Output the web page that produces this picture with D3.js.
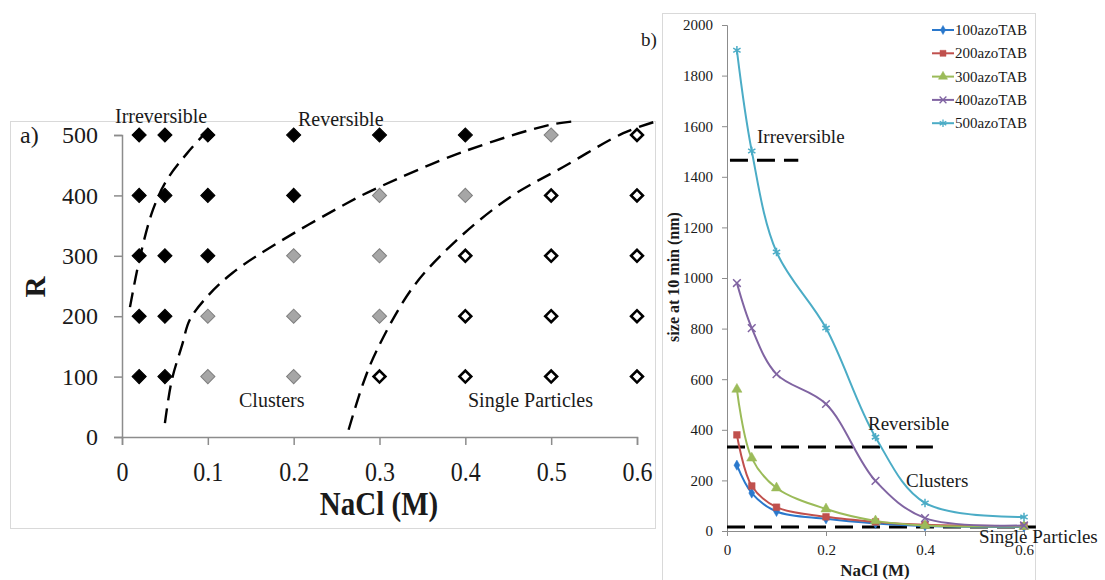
<!DOCTYPE html>
<html>
<head>
<meta charset="utf-8">
<script src="https://cdn.jsdelivr.net/npm/d3@7"></script>
<style>
  body { margin: 0; background: #fff; }
  svg { display: block; font-family: "Liberation Serif", "Times New Roman", serif; }
</style>
</head>
<body>
<svg id="chart" width="1105" height="580"></svg>
<script>
// ---- panel a) phase diagram ----
var saltLevels = [0.02, 0.05, 0.1, 0.2, 0.3, 0.4, 0.5, 0.6];
var ratioLevels = [500, 400, 300, 200, 100];
// I = irreversible, R = reversible (clusters), S = single particles
var phaseGrid = [
    ['I', 'I', 'I', 'I', 'I', 'I', 'R', 'S'],
    ['I', 'I', 'I', 'I', 'R', 'R', 'S', 'S'],
    ['I', 'I', 'I', 'R', 'R', 'S', 'S', 'S'],
    ['I', 'I', 'R', 'R', 'R', 'S', 'S', 'S'],
    ['I', 'I', 'R', 'R', 'S', 'S', 'S', 'S']
];
var axisATicksX = [0, 0.1, 0.2, 0.3, 0.4, 0.5, 0.6];
var axisATicksY = [0, 100, 200, 300, 400, 500];

// hand drawn phase boundaries (NaCl, R)
var irrevBoundaryNaCl = [0.0093, 0.021, 0.036, 0.052, 0.076, 0.106];
var irrevBoundaryR    = [215, 298, 376, 425, 470, 517];
var clusterBoundaryNaCl = [0.050, 0.058, 0.070, 0.079, 0.099, 0.129, 0.181, 0.262, 0.297, 0.397, 0.499, 0.530];
var clusterBoundaryR    = [23, 94, 152, 194, 232, 272, 321, 387, 412, 472, 517, 523];
var singleBoundaryNaCl = [0.264, 0.281, 0.297, 0.339, 0.390, 0.452, 0.514, 0.584, 0.621];
var singleBoundaryR    = [12, 89, 144, 248, 326, 397, 447, 503, 522];

// ---- panel b) size at 10 min ----
var seriesNames = ['100azoTAB', '200azoTAB', '300azoTAB', '400azoTAB', '500azoTAB'];
var sizeNaCl = [0.02, 0.05, 0.1, 0.2, 0.3, 0.4, 0.6];
var size100 = [260, 150, 77, 48, 30, 20, 16];
var size200 = [380, 178, 94, 56, 36, 25, 20];
var size300 = [560, 288, 170, 87, 40, 22, 18];
var size400 = [980, 802, 620, 502, 198, 51, 22];
var size500 = [1900, 1502, 1103, 802, 371, 111, 55];
var axisBTicksX = [0, 0.2, 0.4, 0.6];
var axisBTicksY = [0, 200, 400, 600, 800, 1000, 1200, 1400, 1600, 1800, 2000];
var thresholdLabels = ['Irreversible', 'Reversible', 'Single Particles'];
var thresholdValues = [1465, 332, 16];
var thresholdFrom = [0.006, 0, 0];
var thresholdTo = [0.144, 0.416, 0.624];

var svg = d3.select('#chart');
var axisGray = '#8c8c8c';
var boxGray = '#d9d9d9';
var textColor = '#1a1a1a';

svg.append('rect').attr('width', 1105).attr('height', 580).attr('fill', '#fff');

// panel frames
svg.append('rect')
    .attr('x', 10.5).attr('y', 121.5).attr('width', 645).attr('height', 407)
    .attr('fill', 'none').attr('stroke', boxGray);
svg.append('rect')
    .attr('x', 662.5).attr('y', 13.5).attr('width', 373).attr('height', 590)
    .attr('fill', 'none').attr('stroke', boxGray);

// ================= panel a =================
var ax = d3.scaleLinear().domain([0, 0.6]).range([122, 637]);
var ay = d3.scaleLinear().domain([0, 500]).range([437, 135]);

var gA = svg.append('g');

var xAxisA = gA.append('g')
    .attr('transform', 'translate(0,' + ay(0) + ')')
    .call(d3.axisBottom(ax).tickValues(axisATicksX).tickSize(8).tickPadding(13)
        .tickFormat(function(d){ return d === 0 ? '0' : d3.format('.1f')(d); }));
var yAxisA = gA.append('g')
    .attr('transform', 'translate(' + ax(0) + ',0)')
    .call(d3.axisLeft(ay).tickValues(axisATicksY).tickSize(8).tickPadding(16));

[xAxisA, yAxisA].forEach(function(g){
    g.select('.domain').attr('stroke', axisGray).attr('stroke-width', 1.5);
    g.selectAll('.tick line').attr('stroke', axisGray).attr('stroke-width', 1.5);
    g.selectAll('.tick text')
        .attr('fill', textColor)
        .style('font-family', '"Liberation Serif", serif')
        .style('font-size', '24px');
});
// stretch x tick labels slightly taller like the original
xAxisA.selectAll('.tick text').attr('transform', 'scale(1,1.15)');

// boundaries
var boundaryLine = d3.line()
    .x(function(d){ return ax(d[0]); })
    .y(function(d){ return ay(d[1]); })
    .curve(d3.curveCatmullRom.alpha(0.5));

[[irrevBoundaryNaCl, irrevBoundaryR],
 [clusterBoundaryNaCl, clusterBoundaryR],
 [singleBoundaryNaCl, singleBoundaryR]].forEach(function(b){
    var pts = b[0].map(function(x, i){ return [x, b[1][i]]; });
    gA.append('path')
        .attr('d', boundaryLine(pts))
        .attr('fill', 'none')
        .attr('stroke', '#000')
        .attr('stroke-width', 2.4)
        .attr('stroke-dasharray', '15,8');
});

// phase points
var phaseFill = { I: '#000', R: '#a6a6a6', S: '#fff' };
var phaseStroke = { I: '#000', R: '#7f7f7f', S: '#000' };
var phaseStrokeW = { I: 1, R: 1, S: 2.6 };

ratioLevels.forEach(function(r, ri){
    saltLevels.forEach(function(s, si){
        var p = phaseGrid[ri][si];
        var size = p === 'S' ? 70 : 100;
        gA.append('path')
            .attr('d', d3.symbol().type(d3.symbolSquare).size(size)())
            .attr('transform', 'translate(' + ax(s) + ',' + ay(r) + ') rotate(45)')
            .attr('fill', phaseFill[p])
            .attr('stroke', phaseStroke[p])
            .attr('stroke-width', phaseStrokeW[p]);
    });
});

// labels
gA.append('text').attr('x', 20).attr('y', 143)
    .style('font-size', '24px').attr('fill', textColor).text('a)');
gA.append('text')
    .attr('transform', 'translate(45,287) rotate(-90)')
    .attr('text-anchor', 'middle')
    .style('font-size', '29px').style('font-weight', 'bold').attr('fill', textColor)
    .text('R');
gA.append('text')
    .attr('transform', 'translate(379,515) scale(1,1.15)')
    .attr('text-anchor', 'middle')
    .style('font-size', '29px').style('font-weight', 'bold').attr('fill', textColor)
    .text('NaCl (M)');

var regionA = [
    ['Irreversible', 115, 123],
    ['Reversible', 298, 126],
    ['Clusters', 239, 407],
    ['Single Particles', 468, 407]
];
regionA.forEach(function(t){
    gA.append('text').attr('x', t[1]).attr('y', t[2])
        .style('font-size', '20px').attr('fill', textColor).text(t[0]);
});

// ================= panel b =================
var bx = d3.scaleLinear().domain([0, 0.6]).range([727, 1024]);
var by = d3.scaleLinear().domain([0, 2000]).range([531, 25]);

var gB = svg.append('g');

var xAxisB = gB.append('g')
    .attr('transform', 'translate(0,' + by(0) + ')')
    .call(d3.axisBottom(bx).tickValues(axisBTicksX).tickSize(5).tickPadding(8)
        .tickFormat(function(d){ return d === 0 ? '0' : d3.format('.1f')(d); }));
var yAxisB = gB.append('g')
    .attr('transform', 'translate(' + bx(0) + ',0)')
    .call(d3.axisLeft(by).tickValues(axisBTicksY).tickSize(5).tickPadding(9)
        .tickFormat(d3.format('d')));

[xAxisB, yAxisB].forEach(function(g){
    g.select('.domain').attr('stroke', axisGray).attr('stroke-width', 1);
    g.selectAll('.tick line').attr('stroke', axisGray);
    g.selectAll('.tick text')
        .attr('fill', textColor)
        .style('font-family', '"Liberation Serif", serif')
        .style('font-size', '15px');
});

// threshold dashed lines
thresholdValues.forEach(function(v, i){
    gB.append('line')
        .attr('x1', bx(thresholdFrom[i])).attr('x2', bx(thresholdTo[i]))
        .attr('y1', by(v)).attr('y2', by(v))
        .attr('stroke', '#000')
        .attr('stroke-width', 3)
        .attr('stroke-dasharray', '18,9');
});

var colors = ['#2a78cc', '#c0504d', '#9bbb59', '#8064a2', '#4bacc6'];
var symbols = [d3.symbolDiamond, d3.symbolSquare, d3.symbolTriangle, d3.symbolX, d3.symbolAsterisk];
var symbolSizes = [30, 45, 45, 40, 50];
var strokeSymbol = [false, false, false, true, true];
var allSizes = [size100, size200, size300, size400, size500];

var sizeLine = d3.line()
    .x(function(d){ return bx(d[0]); })
    .y(function(d){ return by(d[1]); })
    .curve(d3.curveCatmullRom.alpha(0.5));

allSizes.forEach(function(vals, si){
    var pts = sizeNaCl.map(function(x, i){ return [x, vals[i]]; });
    gB.append('path')
        .attr('d', sizeLine(pts))
        .attr('fill', 'none')
        .attr('stroke', colors[si])
        .attr('stroke-width', 2);
    pts.forEach(function(p){
        gB.append('path')
            .attr('d', d3.symbol().type(symbols[si]).size(symbolSizes[si])())
            .attr('transform', 'translate(' + bx(p[0]) + ',' + by(p[1]) + ')')
            .attr('fill', strokeSymbol[si] ? 'none' : colors[si])
            .attr('stroke', colors[si])
            .attr('stroke-width', strokeSymbol[si] ? 1.5 : 0.5);
    });
});

// legend
seriesNames.forEach(function(name, i){
    var ly = 30 + i * 23.3;
    gB.append('line')
        .attr('x1', 932).attr('x2', 954).attr('y1', ly).attr('y2', ly)
        .attr('stroke', colors[i]).attr('stroke-width', 2);
    gB.append('path')
        .attr('d', d3.symbol().type(symbols[i]).size(symbolSizes[i] * 0.8)())
        .attr('transform', 'translate(943,' + ly + ')')
        .attr('fill', strokeSymbol[i] ? 'none' : colors[i])
        .attr('stroke', colors[i])
        .attr('stroke-width', strokeSymbol[i] ? 1.3 : 0.5);
    gB.append('text')
        .attr('x', 955).attr('y', ly + 5)
        .style('font-size', '15px').attr('fill', textColor)
        .text(name);
});

// region labels
var regionB = [
    [thresholdLabels[0], 757, 143],
    [thresholdLabels[1], 868, 430],
    ['Clusters', 906, 487],
    [thresholdLabels[2], 979, 543]
];
regionB.forEach(function(t){
    gB.append('text').attr('x', t[1]).attr('y', t[2])
        .style('font-size', '19px').attr('fill', textColor).text(t[0]);
});

gB.append('text').attr('x', 641).attr('y', 46)
    .style('font-size', '19px').attr('fill', textColor).text('b)');
gB.append('text')
    .attr('transform', 'translate(679,277) rotate(-90)')
    .attr('text-anchor', 'middle')
    .style('font-size', '16px').style('font-weight', 'bold').attr('fill', textColor)
    .text('size at 10 min (nm)');
gB.append('text')
    .attr('x', 875).attr('y', 576)
    .attr('text-anchor', 'middle')
    .style('font-size', '17px').style('font-weight', 'bold').attr('fill', textColor)
    .text('NaCl (M)');
</script>
</body>
</html>
